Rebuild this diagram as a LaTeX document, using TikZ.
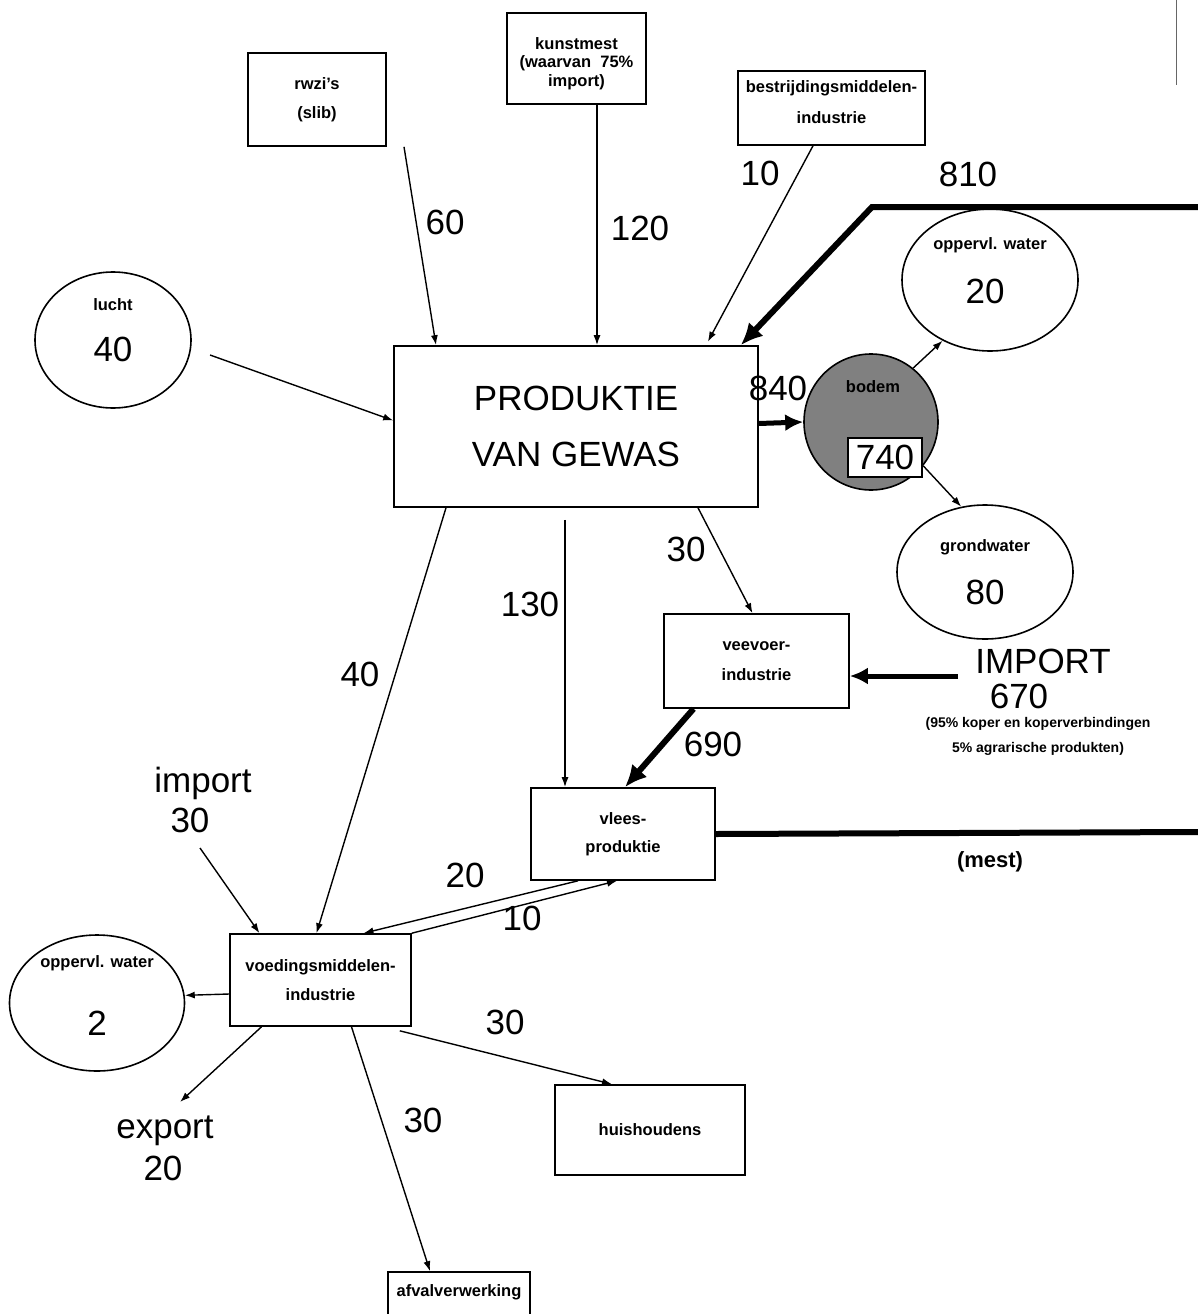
\documentclass[tikz,border=0pt]{standalone}
\usepackage{fontspec}
\setmainfont{Liberation Sans}
\usetikzlibrary{shapes.geometric,arrows.meta,calc}
\newcommand\szBig{\fontsize{35}{40}\selectfont}
\newcommand\szSmall{\fontsize{16.5}{18.5}\selectfont\bfseries}
\newcommand\szParen{\fontsize{14}{25}\selectfont\bfseries}
\newcommand\szMest{\fontsize{22}{26}\selectfont\bfseries}
\begin{document}
\begin{tikzpicture}[x=1pt,y=-1pt,
  boxn/.style={draw,line width=1.6pt,inner sep=0pt,align=center,font=\szSmall},
  ell/.style={draw,ellipse,line width=1.6pt,inner sep=0pt},
  lbl/.style={inner sep=0pt,font=\szBig,align=center},
  sml/.style={inner sep=0pt,font=\szSmall,align=center},
  arr/.style={line width=1.4pt,-{Latex[length=10pt,width=7pt]}},
  fat/.style={line width=6pt,-{Latex[length=22pt,width=20pt]}},
  fatline/.style={line width=6pt},
]
\fill[white] (0,0) rectangle (1198,1314);
\useasboundingbox (0,0) rectangle (1198,1314);

% boxes
\node[boxn,minimum width=138pt,minimum height=93pt] (rwzi) at (317,99.5) {rwzi's\\[10pt](slib)};
\node[boxn,minimum width=139pt,minimum height=91pt] (kunst) at (576.5,58.5) {};
\node[sml,text depth=0pt] (kunstt) at (576.5,62) {kunstmest\\(waarvan~~75\%\\import)};
\node[boxn,minimum width=187pt,minimum height=74pt] (bestr) at (831.5,108) {};
\node[sml] (bestrt) at (831.5,102) {bestrijdingsmiddelen-\\[12pt]industrie};
\node[boxn,minimum width=364pt,minimum height=161pt,font=\fontsize{35}{56}\selectfont] (prod) at (576,426.5) {PRODUKTIE\\VAN GEWAS};
\node[boxn,minimum width=185pt,minimum height=94pt] (veevoer) at (756.5,661) {veevoer-\\[11pt]industrie};
\node[boxn,minimum width=184pt,minimum height=92pt] (vlees) at (623,834) {vlees-\\[10pt]produktie};
\node[boxn,minimum width=181pt,minimum height=92pt] (voed) at (320.5,980) {voedingsmiddelen-\\[11pt]industrie};
\node[boxn,minimum width=190pt,minimum height=90pt] (huis) at (650,1130) {huishoudens};
\node[boxn,minimum width=142pt,minimum height=50pt] (afval) at (459,1297) {};
\node[sml] (afvalt) at (459,1292) {afvalverwerking};

% ellipses
\node[ell,minimum width=156pt,minimum height=136pt] (lucht) at (113,340) {};
\node[sml] (luchtA) at (113,305) {lucht};
\node[lbl] (luchtB) at (113,349) {40};

\node[ell,minimum width=176pt,minimum height=142pt] (ow1) at (990,280) {};
\node[sml] (ow1A) at (990,245) {oppervl. water};
\node[lbl] (ow1B) at (985,291) {20};

\node[ell,fill=black!50,minimum width=134pt,minimum height=136pt] (bodem) at (871,422) {};
\node[sml] (bodemA) at (873,387) {bodem};
\node[draw,fill=white,line width=1.6pt,inner sep=0pt,minimum width=74pt,minimum height=39pt,font=\szBig] (b740) at (885,457.5) {740};

\node[ell,minimum width=176pt,minimum height=134pt] (grond) at (985,572) {};
\node[sml] (grondA) at (985,547) {grondwater};
\node[lbl] (grondB) at (985,592) {80};

\node[ell,minimum width=175pt,minimum height=136pt] (ow2) at (97,1003) {};
\node[sml] (ow2A) at (97,963) {oppervl. water};
\node[lbl] (ow2B) at (97,1023) {2};

% free texts
\node[lbl] (impA) at (203,783) {import};
\node[lbl] (impB) at (190,820) {30};
\node[lbl] (expA) at (165,1131) {export};
\node[lbl] (expB) at (163,1168) {20};
\node[lbl] (IMP) at (1043,661) {IMPORT};
\node[lbl] (IMPn) at (1019,696) {670};
\node[inner sep=0pt,font=\szParen,align=center] (IMPt) at (1038,736) {(95\% koper en koperverbindingen\\5\% agrarische produkten)};
\node[inner sep=0pt,font=\szMest] (mest) at (990,862) {(mest)};

% value labels
\node[lbl] (l60) at (445,222) {60};
\node[lbl] (l120) at (640,228) {120};
\node[lbl] (l10a) at (760,173) {10};
\node[lbl] (l810) at (968,174) {810};
\node[lbl] (l840) at (778,388) {840};
\node[lbl] (l30a) at (686,549) {30};
\node[lbl] (l130) at (530,604) {130};
\node[lbl] (l40) at (360,674) {40};
\node[lbl] (l690) at (713,744) {690};
\node[lbl] (l20) at (465,875) {20};
\node[lbl] (l10b) at (522,918) {10};
\node[lbl] (l30b) at (505,1022) {30};
\node[lbl] (l30c) at (423,1120) {30};

% coordinates for free ends
\coordinate (in810) at (1198,207);
\coordinate (bend810) at (872,207);
\coordinate (mestR) at (1198,832);
\coordinate (impR) at (958,676);
\coordinate (impS) at (200,848);
\coordinate (expE) at (180,1102);

% connectors
\draw[arr] ($(rwzi.south)+(87,0)$) -- ($(prod.north)+(-140,0)$);
\draw[arr] ($(kunst.south)+(20.5,0)$) -- ($(prod.north)+(21,0)$);
\draw[arr,shorten >=4pt] ($(bestr.south)+(-18.5,0)$) -- ($(prod.north)+(130,0)$);
\draw[fat] (in810) -- (bend810) -- ($(prod.north east)+(-18,0)$);
\draw[arr] ($(lucht.center)+(97,15)$) -- ($(prod.west)+(0,-6)$);
\draw[line width=5pt,-{Latex[length=18pt,width=17pt]}] ($(prod.east)+(0,-3)$) -- (bodem.west);
\draw[arr] (bodem.52) -- (ow1.232);
\draw[arr] (bodem.-40) -- (grond.110);
\draw[arr] ($(prod.south)+(122,0)$) -- ($(veevoer.north)+(-4,0)$);
\draw[arr,shorten <=12pt] ($(prod.south)+(-11,0)$) -- ($(vlees.north)+(-58,0)$);
\draw[arr] ($(prod.south)+(-130,0)$) -- ($(voed.north)+(-4,0)$);
\draw[line width=5pt,-{Latex[length=18pt,width=17pt]}] (impR) -- ($(veevoer.east)+(0,15)$);
\draw[fat] ($(veevoer.south)+(-63,0)$) -- ($(vlees.north)+(2,0)$);
\draw[fatline] (vlees.east) -- (mestR);
\draw[arr] ($(vlees.south)+(-45,0)$) -- ($(voed.north)+(43,0)$);
\draw[arr] (voed.north east) -- ($(vlees.south)+(-6,0)$);
\draw[arr] (impS) -- ($(voed.north)+(-61,0)$);
\draw[arr] ($(voed.west)+(0,14)$) -- (ow2.5);
\draw[arr] ($(voed.south)+(-59,0)$) -- (expE);
\draw[arr] ($(voed.south east)+(-12,4)$) -- ($(huis.north)+(-38,0)$);
\draw[arr] ($(voed.south)+(31,0)$) -- ($(afval.north)+(-29,0)$);

% scan edge line at top right
\draw[line width=1pt,black!60] (1176,0) -- (1176,85);
\end{tikzpicture}
\end{document}
